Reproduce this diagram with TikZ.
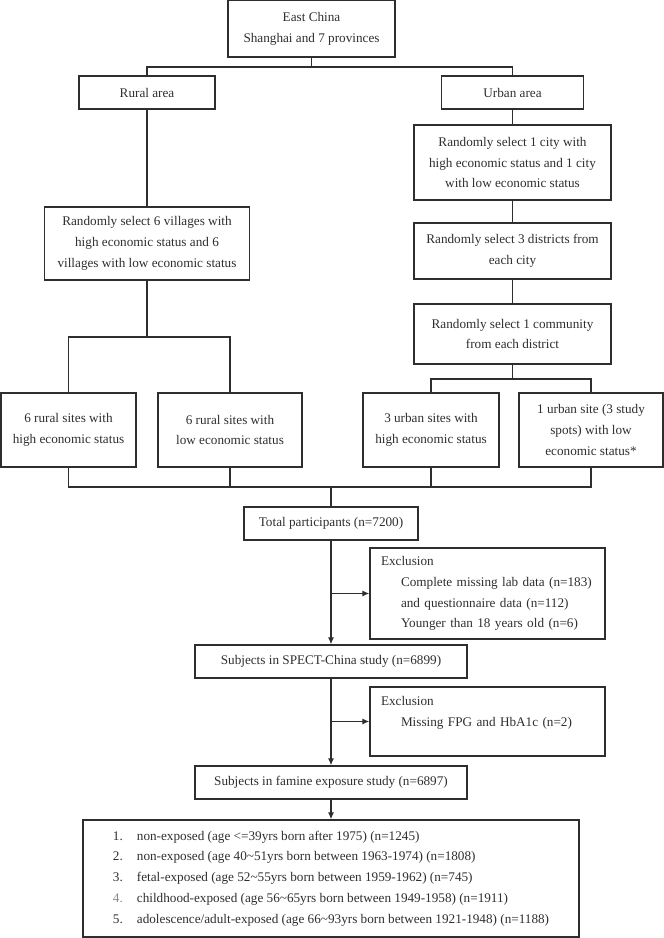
\documentclass[tikz,border=0pt]{standalone}
\usepackage{fontspec}
\setmainfont{Liberation Serif}
\usetikzlibrary{arrows.meta}

\definecolor{inkgray}{HTML}{2E2E2E}
\definecolor{numgray}{HTML}{8A8A8A}

\tikzset{
  flowbox/.style={draw=inkgray, line width=1.4pt, align=center, inner sep=0pt,
    text=inkgray, font=\fontsize{13.2}{20.8}\selectfont},
  exclbox/.style={flowbox, align=left, inner xsep=11pt, text width=213pt},
  link/.style={draw=inkgray, line width=1.1pt},
  feed/.style={link, -{Latex[length=7pt, width=6pt]}},
}

\begin{document}
\begin{tikzpicture}[x=1pt, y=-1pt]
                    \useasboundingbox (0,0) rectangle (664,938);
                    % sampling
                    \node[flowbox, minimum width=167pt, minimum height=57pt] (east) at (311.5,28.5) {East China\\Shanghai and 7 provinces};
                    \node[flowbox, minimum width=136pt, minimum height=33pt] (rural) at (147,92.5) {Rural area};
                    \node[flowbox, minimum width=142pt, minimum height=33pt] (urban) at (512.5,92.5) {Urban area};
                    \node[flowbox, minimum width=205pt, minimum height=73pt] (villages) at (147,243.5) {Randomly select 6 villages with\\high economic status and 6\\villages with low economic status};
                    \node[flowbox, minimum width=197pt, minimum height=75pt] (city) at (512.5,162.5) {Randomly select 1 city with\\high economic status and 1 city\\with low economic status};
                    \node[flowbox, minimum width=197pt, minimum height=56pt] (district) at (512.5,251) {Randomly select 3 districts from\\each city};
                    \node[flowbox, minimum width=197pt, minimum height=60pt] (community) at (512.5,334) {Randomly select 1 community\\from each district};
                    \node[flowbox, minimum width=135pt, minimum height=74pt] (ruralhigh) at (68.5,430) {6 rural sites with\\high economic status};
                    \node[flowbox, minimum width=144pt, minimum height=74pt] (rurallow) at (230,430) {6 rural sites with\\low economic status};
                    \node[flowbox, minimum width=136pt, minimum height=74pt] (urbanhigh) at (431,430) {3 urban sites with\\high economic status};
                    \node[flowbox, minimum width=144pt, minimum height=74pt] (urbanlow) at (591,430) {1 urban site (3 study\\spots) with low\\economic status*};
                    \coordinate (eastfork) at (311.5,67);
                    \coordinate (villfork) at (147,337);
                    \coordinate (commfork) at (512.5,379);
                    \coordinate (sitesjoin) at (331,487);
                    \draw[link] (east.south) -- (eastfork);
                    \draw[link] (rural.north) |- (eastfork) -| (urban.north);
                    \draw[link] (rural.south) -- (villages.north);
                    \draw[link] (villages.south) -- (villfork);
                    \draw[link] (ruralhigh.north) |- (villfork) -| (rurallow.north);
                    \draw[link] (urban.south) -- (city.north);
                    \draw[link] (city.south) -- (district.north);
                    \draw[link] (district.south) -- (community.north);
                    \draw[link] (community.south) -- (commfork);
                    \draw[link] (urbanhigh.north) |- (commfork) -| (urbanlow.north);
                    \draw[link] (ruralhigh.south) |- (sitesjoin) -| (urbanlow.south);
                    \foreach \site in {rurallow, urbanhigh}
                    \draw[link] (\site.south) -- (\site.south |- sitesjoin);
                    % participants
                    \node[flowbox, minimum width=174pt, minimum height=33pt] (total) at (331,523.5) {Total participants (n=7200)};
                    \node[exclbox, minimum height=91pt] (excl1) at (487.5,593.5) {Exclusion\\\hspace*{20pt}Complete missing lab data (n=183)\\\hspace*{20pt}and questionnaire data (n=112)\\\hspace*{20pt}Younger than 18 years old (n=6)};
                    \node[flowbox, minimum width=272pt, minimum height=33pt] (spect) at (331,661.5) {Subjects in SPECT-China study (n=6899)};
                    \node[exclbox, minimum height=69pt] (excl2) at (487.5,721.5) {Exclusion\\\hspace*{20pt}Missing FPG and HbA1c (n=2)\\\mbox{}};
                    \node[flowbox, minimum width=272pt, minimum height=33pt] (famine) at (331,782.5) {Subjects in famine exposure study (n=6897)};
                    \node[flowbox, align=left, minimum width=496pt, minimum height=117pt] (groups) at (331,878.5) {\makebox[24pt][l]{1.}non-exposed (age <=39yrs born after 1975) (n=1245)\\
                    \makebox[24pt][l]{2.}non-exposed (age 40\textasciitilde51yrs born between 1963-1974) (n=1808)\\
                    \makebox[24pt][l]{3.}fetal-exposed (age 52\textasciitilde55yrs born between 1959-1962) (n=745)\\
                    \makebox[24pt][l]{\textcolor{numgray}{4.}}childhood-exposed (age 56\textasciitilde65yrs born between 1949-1958) (n=1911)\\
                    \makebox[24pt][l]{5.}adolescence/adult-exposed (age 66\textasciitilde93yrs born between 1921-1948) (n=1188)};
                    \draw[link] (sitesjoin) -- (total.north);
                    \draw[feed] (total.south) -- (spect.north);
                    \draw[feed] (total.south |- excl1.west) -- (excl1.west);
                    \draw[feed] (spect.south) -- (famine.north);
                    \draw[feed] (spect.south |- excl2.west) -- (excl2.west);
                    \draw[feed] (famine.south) -- (groups.north);
                \end{tikzpicture}
\end{document}
